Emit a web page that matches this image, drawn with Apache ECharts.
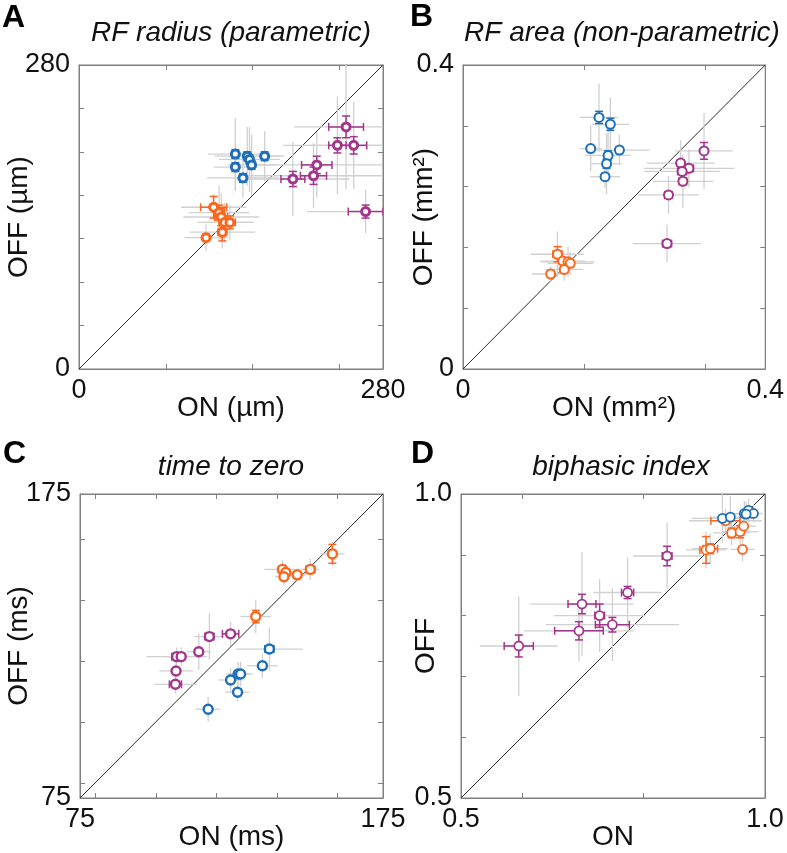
<!DOCTYPE html>
<html lang="en">
<head>
<meta charset="UTF-8">
<title>ON vs OFF</title>
<script src="https://cdn.jsdelivr.net/npm/echarts@6/dist/echarts.min.js"></script>
<style>
    html, body { margin: 0; padding: 0; background: #fff; }
    #chart { width: 787px; height: 853px; }
</style>
</head>
<body>
<div id="chart"></div>
<script>
    // each row: [ON, OFF, gray err ON, gray err OFF, colored err ON, colored err OFF]
    var radiusBlue = [
        [144, 198, 25, 33, 2, 4], [155, 196, 30, 27, 2, 4], [157, 193, 28, 30, 2, 4],
        [159, 188, 22, 28, 2, 4], [144, 186, 20, 22, 2, 4], [151, 176, 33, 18, 2, 4],
        [171, 196, 18, 23, 2, 4]
    ];
    var radiusOrange = [
        [124, 149, 30, 12, 12, 10], [129, 144, 28, 25, 5, 7], [131, 140, 35, 22, 6, 8],
        [134, 135, 25, 18, 5, 6], [139, 135, 22, 16, 5, 6], [132, 126, 30, 15, 4, 8],
        [117, 121, 20, 12, 3, 3]
    ];
    var radiusPurple = [
        [246, 223, 48, 57, 16, 10], [238, 206, 50, 45, 8, 7], [253, 206, 40, 40, 12, 8],
        [219, 188, 60, 30, 14, 8], [216, 178, 66, 30, 12, 8], [197, 175, 52, 34, 11, 7],
        [264, 145, 54, 20, 16, 6]
    ];

    var areaBlue = [
        [0.180, 0.331, 0.025, 0.045, 0.003, 0.008], [0.195, 0.322, 0.025, 0.035, 0.003, 0.008],
        [0.169, 0.290, 0.015, 0.030, 0.002, 0.004], [0.207, 0.288, 0.040, 0.020, 0.004, 0.004],
        [0.192, 0.281, 0.030, 0.035, 0.002, 0.006], [0.190, 0.270, 0.020, 0.040, 0.002, 0.006],
        [0.188, 0.253, 0.020, 0.015, 0.002, 0.004]
    ];
    var areaOrange = [
        [0.125, 0.151, 0.035, 0.030, 0.006, 0.010], [0.132, 0.142, 0.030, 0.015, 0.004, 0.004],
        [0.139, 0.141, 0.035, 0.020, 0.004, 0.004], [0.142, 0.139, 0.030, 0.015, 0.004, 0.004],
        [0.134, 0.131, 0.025, 0.015, 0.004, 0.004], [0.116, 0.125, 0.025, 0.010, 0.003, 0.003]
    ];
    var areaPurple = [
        [0.319, 0.287, 0.038, 0.050, 0.004, 0.011], [0.288, 0.271, 0.045, 0.030, 0.004, 0.004],
        [0.299, 0.264, 0.060, 0.025, 0.006, 0.004], [0.290, 0.260, 0.050, 0.020, 0.006, 0.004],
        [0.291, 0.247, 0.040, 0.035, 0.005, 0.004], [0.272, 0.229, 0.040, 0.025, 0.005, 0.004],
        [0.270, 0.165, 0.045, 0.025, 0.006, 0.004]
    ];

    var timeOrange = [
        [158.3, 155.3, 4, 4, 1, 3.1], [141.8, 150.2, 6, 3, 1, 1], [142.9, 149.2, 3, 3, 1, 1],
        [142.3, 147.8, 3, 3, 1, 1], [146.7, 148.4, 3, 2, 1, 1], [151.0, 150.2, 3, 3.5, 1.5, 1.2],
        [133.0, 134.7, 5, 5.5, 1, 2]
    ];
    var timePurple = [
        [117.7, 128.1, 5, 7.7, 1.5, 1], [124.7, 129.0, 3, 4, 2.7, 1], [114.2, 123.1, 4, 6, 1, 1],
        [106.9, 121.5, 10, 3, 1.6, 1], [108.4, 121.5, 6, 3, 1, 1], [106.7, 116.8, 5.5, 3, 1, 1],
        [106.5, 112.4, 7, 3, 2, 1]
    ];
    var timeBlue = [
        [137.5, 124.0, 11, 7, 1.5, 1], [135.2, 118.5, 5, 4, 1, 1], [127.2, 115.8, 4, 4, 1, 1],
        [128.0, 115.8, 4, 4, 1, 1], [124.7, 113.8, 4, 4, 1, 1], [127.0, 109.8, 4, 3, 1, 1],
        [117.3, 104.2, 4, 4, 1, 1]
    ];

    var biphasicPurple = [
        [0.839, 0.898, 0.056, 0.055, 0.008, 0.016], [0.774, 0.838, 0.056, 0.058, 0.010, 0.010],
        [0.699, 0.819, 0.085, 0.085, 0.023, 0.016], [0.728, 0.800, 0.075, 0.060, 0.008, 0.019],
        [0.749, 0.785, 0.110, 0.060, 0.028, 0.012], [0.694, 0.775, 0.090, 0.050, 0.040, 0.015],
        [0.595, 0.750, 0.064, 0.082, 0.024, 0.018]
    ];
    var biphasicOrange = [
        [0.903, 0.908, 0.033, 0.030, 0.010, 0.022], [0.910, 0.910, 0.030, 0.025, 0.012, 0.008],
        [0.935, 0.956, 0.060, 0.020, 0.024, 0.006], [0.945, 0.936, 0.030, 0.020, 0.006, 0.008],
        [0.959, 0.938, 0.030, 0.020, 0.006, 0.010], [0.965, 0.947, 0.020, 0.015, 0.004, 0.004],
        [0.963, 0.909, 0.020, 0.020, 0.004, 0.004]
    ];
    var biphasicBlue = [
        [0.930, 0.960, 0.050, 0.040, 0.004, 0.004], [0.943, 0.962, 0.030, 0.035, 0.004, 0.004],
        [0.966, 0.968, 0.020, 0.020, 0.003, 0.003], [0.973, 0.973, 0.015, 0.020, 0.003, 0.003],
        [0.981, 0.968, 0.015, 0.015, 0.003, 0.003], [0.969, 0.967, 0.020, 0.020, 0.003, 0.003]
    ];

    var letters = ['A', 'B', 'C', 'D'];
    var titles = ['RF radius (parametric)', 'RF area (non-parametric)', 'time to zero', 'biphasic index'];
    var xNames = ['ON (µm)', 'ON (mm²)', 'ON (ms)', 'ON'];
    var yNames = ['OFF (µm)', 'OFF (mm²)', 'OFF (ms)', 'OFF'];
    var ranges = [[0, 280], [0, 0.4], [75, 175], [0.5, 1.0]];
    var endLabels = [['0', '280'], ['0', '0.4'], ['75', '175'], ['0.5', '1.0']];
    var xTicks = [[80, 160, 240], [0.16, 0.32], [80, 100, 120, 140, 160], [0.6, 0.8]];
    var yTicks = [[40, 80, 120, 160, 200, 240], [0.08, 0.16, 0.24, 0.32], [80, 100, 120, 140, 160], [0.6, 0.7, 0.8, 0.9]];
    var panelData = [
        [radiusPurple, radiusOrange, radiusBlue],
        [areaPurple, areaOrange, areaBlue],
        [timePurple, timeOrange, timeBlue],
        [biphasicPurple, biphasicOrange, biphasicBlue]
    ];

    var groupColors = ['#a2358c', '#f8671d', '#1d6fb8'];
    var FONT = '"Liberation Sans", Arial, Helvetica, sans-serif';
    var FRAME = '#808080';

    var grids = [
        { left: 79, top: 65, width: 304, height: 304 },
        { left: 463, top: 65, width: 304, height: 304 },
        { left: 80, top: 494, width: 303, height: 304 },
        { left: 461, top: 494, width: 304, height: 304 }
    ];
    var yNameGap = [46, 25, 47, 21];
    var markerSize = [8, 9, 9, 9];
    var markerBorder = [3, 2, 2.4, 1.8];
    var letterPos = [[2, 18], [410, 17], [3, 454], [411, 454]];
    var titlePos = [[231, 33], [622, 33], [231, 467], [621, 467]];

    function errorBars(color, width, cap) {
        return function (params, api) {
            var x = api.value(0), y = api.value(1), ex = api.value(2), ey = api.value(3);
            var l = api.coord([x - ex, y]), r = api.coord([x + ex, y]);
            var b = api.coord([x, y - ey]), t = api.coord([x, y + ey]);
            var st = { stroke: color, lineWidth: width, fill: null };
            var kids = [
                { type: 'line', shape: { x1: l[0], y1: l[1], x2: r[0], y2: r[1] }, style: st },
                { type: 'line', shape: { x1: b[0], y1: b[1], x2: t[0], y2: t[1] }, style: st }
            ];
            if (cap) {
                kids.push({ type: 'line', shape: { x1: l[0], y1: l[1] - cap, x2: l[0], y2: l[1] + cap }, style: st });
                kids.push({ type: 'line', shape: { x1: r[0], y1: r[1] - cap, x2: r[0], y2: r[1] + cap }, style: st });
                kids.push({ type: 'line', shape: { x1: b[0] - cap, y1: b[1], x2: b[0] + cap, y2: b[1] }, style: st });
                kids.push({ type: 'line', shape: { x1: t[0] - cap, y1: t[1], x2: t[0] + cap, y2: t[1] }, style: st });
            }
            return { type: 'group', children: kids };
        };
    }

    var xAxes = [], yAxes = [], series = [], graphics = [];

    for (var i = 0; i < 4; i++) {
        var mn = ranges[i][0], mx = ranges[i][1];
        (function (i, mn, mx) {
            var fmt = function (v) {
                return Math.abs(v - mn) < 1e-9 ? endLabels[i][0] : endLabels[i][1];
            };
            var line = { show: true, onZero: false, lineStyle: { color: FRAME, width: 1 } };
            var lab = { fontFamily: FONT, fontSize: 27, color: '#111' };

            xAxes.push({
                type: 'value', gridIndex: i, min: mn, max: mx, position: 'bottom',
                name: xNames[i], nameLocation: 'middle', nameGap: 25, nameMoveOverlap: false,
                nameTextStyle: { fontFamily: FONT, fontSize: 28, color: '#111' },
                axisLine: line, splitLine: { show: false },
                axisTick: { inside: true, length: 5, customValues: xTicks[i], lineStyle: { color: FRAME } },
                axisLabel: Object.assign({ margin: 8, customValues: [mn, mx], formatter: fmt }, lab)
            });
            xAxes.push({
                type: 'value', gridIndex: i, min: mn, max: mx, position: 'top',
                axisLine: line, splitLine: { show: false }, axisLabel: { show: false },
                axisTick: { inside: true, length: 5, customValues: xTicks[i], lineStyle: { color: FRAME } }
            });
            yAxes.push({
                type: 'value', gridIndex: i, min: mn, max: mx, position: 'left',
                name: yNames[i], nameLocation: 'middle', nameGap: yNameGap[i], nameMoveOverlap: false,
                nameTextStyle: { fontFamily: FONT, fontSize: 28, color: '#111' },
                axisLine: line, splitLine: { show: false },
                axisTick: { inside: true, length: 5, customValues: yTicks[i], lineStyle: { color: FRAME } },
                axisLabel: Object.assign({ margin: 9, customValues: [mn, mx], formatter: fmt }, lab)
            });
            yAxes.push({
                type: 'value', gridIndex: i, min: mn, max: mx, position: 'right',
                axisLine: line, splitLine: { show: false }, axisLabel: { show: false },
                axisTick: { inside: true, length: 5, customValues: yTicks[i], lineStyle: { color: FRAME } }
            });
        })(i, mn, mx);

        // unity line
        series.push({
            type: 'line', xAxisIndex: 2 * i, yAxisIndex: 2 * i, silent: true, symbol: 'none', z: 1,
            data: [[mn, mn], [mx, mx]],
            lineStyle: { color: '#2a2a2a', width: 1 }
        });

        var groups = panelData[i];
        groups.forEach(function (rows) {
            series.push({
                type: 'custom', xAxisIndex: 2 * i, yAxisIndex: 2 * i, silent: true, clip: true, z: 2,
                renderItem: errorBars('#d0d0d0', 1.3, 0),
                encode: { x: 0, y: 1 },
                data: rows.map(function (r) { return [r[0], r[1], r[2], r[3]]; })
            });
        });
        groups.forEach(function (rows, g) {
            series.push({
                type: 'scatter', xAxisIndex: 2 * i, yAxisIndex: 2 * i, silent: true, z: 3,
                symbol: 'circle', symbolSize: markerSize[i],
                itemStyle: { color: '#fff', borderColor: groupColors[g], borderWidth: markerBorder[i], opacity: 1 },
                data: rows.map(function (r) { return [r[0], r[1]]; })
            });
            series.push({
                type: 'custom', xAxisIndex: 2 * i, yAxisIndex: 2 * i, silent: true, clip: true, z: 3,
                renderItem: errorBars(groupColors[g], 1.5, 4),
                encode: { x: 0, y: 1 },
                data: rows.map(function (r) { return [r[0], r[1], r[4], r[5]]; })
            });
        });

        graphics.push({
            type: 'text', x: letterPos[i][0], y: letterPos[i][1],
            style: { text: letters[i], font: 'bold 32px ' + FONT, fill: '#000', textVerticalAlign: 'middle' }
        });
        graphics.push({
            type: 'text', x: titlePos[i][0], y: titlePos[i][1],
            style: { text: titles[i], font: 'italic 28px ' + FONT, fill: '#111', textAlign: 'center', textVerticalAlign: 'middle' }
        });
    }

    var chart = echarts.init(document.getElementById('chart'), null, { renderer: 'canvas' });
    chart.setOption({
        animation: false,
        backgroundColor: '#fff',
        grid: grids.map(function (g) {
            return Object.assign({ show: true, borderColor: FRAME, borderWidth: 1, containLabel: false }, g);
        }),
        xAxis: xAxes,
        yAxis: yAxes,
        graphic: graphics,
        series: series
    });
</script>
</body>
</html>
